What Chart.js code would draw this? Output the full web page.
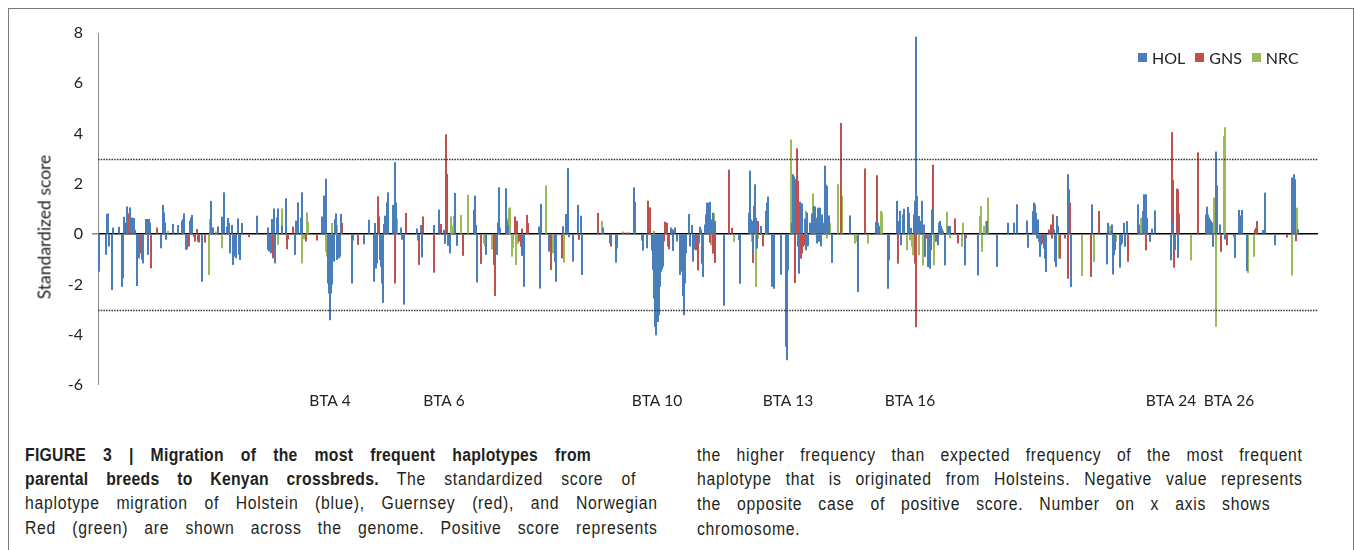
<!DOCTYPE html>
<html>
<head>
<meta charset="utf-8">
<script src="https://cdn.jsdelivr.net/npm/chart.js@4.4.1/dist/chart.umd.min.js"></script>
<style>
  html, body { margin: 0; padding: 0; background: #fff; }
  body { width: 1355px; height: 550px; position: relative; overflow: hidden; }
  #frame { position: absolute; left: 8px; top: 8px; width: 1346px; height: 600px;
           border: 1.5px solid #7a7a7a; border-bottom: none; box-sizing: border-box; }
  #wrap { position: absolute; left: 0; top: 0; width: 1355px; height: 420px; }
  #ytitle { position: absolute; left: 44px; top: 227px; transform: translate(-50%, -50%) rotate(-90deg);
            font-family: Lato, 'Open Sans', sans-serif; font-size: 17.5px; color: #222; white-space: nowrap; }
  #legend { position: absolute; left: 1138px; top: 47px; height: 20px; display: flex; align-items: center;
            font-family: Lato, 'Open Sans', sans-serif; font-size: 16px; color: #222; }
  #legend .it { display: flex; align-items: center; margin-right: 10px; }
  #legend .sw { width: 9px; height: 9px; margin-right: 5px; }
  .cap { position: absolute; font-family: "Liberation Sans", Arial, sans-serif;
         font-size: 17.5px; color: #231f20; white-space: nowrap; line-height: 24px; letter-spacing: 0.8px;
         transform: scaleX(0.9); transform-origin: 0 0; }
  .j { text-align: justify; text-align-last: justify; }
  b { font-weight: bold; letter-spacing: 0.3px; }
</style>
</head>
<body>
<div id="frame"></div>
<div id="wrap"><canvas id="c"></canvas></div>
<div id="ytitle">Standardized score</div>
<div id="legend"></div>

<div class="cap j" style="left:25px; top:443px; width:629px;"><b>FIGURE 3 | Migration of the most frequent haplotypes from</b></div>
<div class="cap j" style="left:25px; top:467px; width:679px;"><b>parental breeds to Kenyan crossbreds.</b> The standardized score of</div>
<div class="cap j" style="left:25px; top:491px; width:703px;">haplotype migration of Holstein (blue), Guernsey (red), and Norwegian</div>
<div class="cap j" style="left:25px; top:516px; width:703px;">Red (green) are shown across the genome. Positive score represents</div>
<div class="cap j" style="left:697px; top:443px; width:673px;">the higher frequency than expected frequency of the most frequent</div>
<div class="cap j" style="left:697px; top:467px; width:673px;">haplotype that is originated from Holsteins. Negative value represents</div>
<div class="cap j" style="left:697px; top:492px; width:637px;">the opposite case of positive score. Number on x axis shows</div>
<div class="cap" style="left:697px; top:517px;">chromosome.</div>

<script>
// ---- data: genome window index and standardized score per breed ----
const holPos = [1,8,9,10,11,14,15,21,24,25,26,29,32,34,36,37,39,40,41,44,45,49,50,51,52,63,65,66,68,75,80,84,85,86,88,89,92,93,94,104,113,114,115,120,124,126,129,130,131,132,134,135,136,137,138,140,141,142,144,159,170,171,173,174,176,177,179,180,184,188,
197,198,200,203,204,224,226,228,230,231,232,233,234,236,237,238,239,241,242,243,254,266,271,276,277,278,279,282,283,284,285,286,287,289,290,295,296,297,298,303,304,306,319,320,323,324,336,341,346,347,350,352,357,359,376,377,378,379,388,
398,399,400,401,402,408,409,410,424,426,441,442,443,451,457,458,465,468,470,471,475,480,483,484,505,512,518,519,536,537,544,545,549,555,556,557,558,559,560,561,562,563,564,565,573,574,575,576,577,579,582,583,584,585,586,587,588,591,592,594,595,
597,601,602,603,604,605,607,608,609,610,611,612,614,615,617,626,641,642,651,652,653,654,655,656,657,658,659,663,668,669,670,674,675,676,683,688,689,690,695,696,700,701,702,704,707,708,709,710,712,714,716,717,718,719,720,721,722,723,724,726,727,729,730,731,734,752,760,778,780,781,790,791,
799,800,801,802,803,805,806,810,811,813,816,817,818,819,820,821,822,824,826,827,830,832,833,834,838,840,841,842,843,844,845,847,850,852,867,880,889,899,910,916,919,929,930,935,936,937,938,939,940,941,942,943,947,948,956,957,958,959,960,970,973,994,
1009,1010,1013,1014,1015,1016,1017,1022,1023,1024,1026,1027,1029,1040,1041,1045,1046,1047,1048,1049,1052,1054,1057,1073,1075,1077,1080,1108,1109,1110,1111,1112,1113,1114,1115,1118,1119,1122,1127,1137,1141,1143,1144,1149,1165,1167,1177,1194,1195,1196,1197,1200];
const holVal = [-1.48,-0.81,0.79,0.81,-0.48,-2.21,0.25,0.28,-2.08,-1.75,0.68,1.09,1.05,0.65,0.63,0.16,-2.05,-0.75,-0.95,-1.01,-1.15,0.59,-0.81,0.59,0.45,-0.55,1.15,0.85,-0.21,0.39,0.35,0.52,0.59,0.81,-0.61,-0.59,0.52,0.65,0.75,-1.88,1.31,0.25,0.25,0.29,0.68,1.65,0.29,0.63,0.43,-0.75,0.35,-1.21,-0.88,-0.61,-0.95,0.61,-0.81,-1.01,0.43,0.72,0.25,-0.68,-0.75,0.59,1.01,-1.15,0.65,1.01,0.32,1.41,
-0.81,0.52,1.25,0.65,1.65,0.69,1.52,2.19,-1.95,-2.35,-3.41,-2.35,-2.0,-1.08,0.59,0.81,-1.01,-0.95,-0.88,0.79,-1.95,-0.39,0.56,-1.88,0.43,-1.35,-1.15,-1.01,-1.28,-1.95,-2.72,0.39,0.72,1.25,1.65,1.15,1.09,2.85,1.25,0.25,-0.21,-2.79,0.21,-0.24,0.35,-0.91,0.35,0.96,0.16,-0.37,-0.45,-0.75,1.63,-0.45,0.96,1.52,0.35,-1.91,-0.81,
-0.55,-0.81,0.45,1.85,0.25,1.81,0.52,0.35,-0.85,-2.08,0.29,-2.15,1.19,-0.68,-1.08,-1.88,0.29,0.79,2.61,-0.11,-1.08,1.15,0.72,-1.61,0.25,-0.35,-1.12,-0.55,1.85,1.28,-0.24,-0.64,-0.55,-1.41,-2.55,-3.68,-4.01,-3.41,-3.48,-3.21,-2.08,-1.48,-1.39,-1.28,0.25,0.19,-0.65,0.16,0.25,-0.28,-1.61,-1.48,-1.08,-2.45,-3.21,-1.95,-0.75,0.79,-0.48,0.35,-1.08,
-0.6,-0.36,0.28,0.17,-0.56,-1.69,0.37,0.77,1.24,0.84,1.24,1.27,0.57,0.84,0.51,-2.83,-0.23,-1.96,0.84,2.51,0.57,0.51,-0.76,1.11,1.97,0.64,-0.56,0.31,0.91,1.24,1.48,-2.07,-2.09,-2.16,-1.6,-4.47,-5.0,-1.43,2.37,2.28,-0.49,-1.56,1.28,1.21,0.6,-0.63,0.84,-0.47,0.44,0.81,1.11,1.08,0.64,-0.36,1.04,-0.29,1.04,-0.47,0.77,0.44,2.71,1.91,0.64,0.73,-1.13,0.73,-2.29,0.47,0.44,0.31,-2.16,-1.03,
1.31,0.51,0.24,0.91,-0.43,0.77,1.0,1.07,0.84,0.24,0.77,1.31,7.84,1.51,0.64,0.71,0.51,1.31,0.37,-0.89,-1.29,-1.36,-0.63,0.97,-0.29,-0.43,0.44,0.51,0.31,0.21,0.11,-1.23,0.31,0.31,-1.23,-1.63,0.51,-1.29,0.44,0.44,1.17,0.53,-0.53,0.91,1.24,1.17,0.84,-0.16,0.57,-0.29,-0.89,-0.43,-0.96,-1.49,0.17,-1.09,-1.29,0.71,0.31,2.37,-2.09,1.17,
-1.19,0.44,0.11,0.37,-1.59,-0.83,-0.63,-1.32,-0.43,-0.36,0.44,-0.49,0.51,1.17,0.37,0.91,1.57,1.11,1.57,0.64,-0.29,0.2,0.93,-1.03,0.47,-0.63,-0.93,0.77,1.08,0.77,0.64,0.57,0.51,0.44,-0.49,3.27,1.93,0.37,-0.2,-0.93,0.95,0.73,0.95,-1.45,0.15,1.64,-0.43,2.24,1.48,2.37,2.17,0.17];

const gnsPos = [28,30,33,43,48,53,59,67,91,96,97,99,100,101,107,151,170,175,189,190,195,
208,219,233,244,255,260,280,281,297,308,321,325,336,343,348,349,351,365,383,396,397,
417,419,421,423,424,429,430,453,458,464,465,475,481,484,500,513,526,529,531,550,552,554,566,567,568,569,570,571,575,
598,600,604,612,613,615,617,631,634,655,660,665,694,697,698,699,700,703,704,705,706,743,767,779,
800,817,818,829,835,857,860,868,945,946,951,953,954,955,962,967,970,971,972,993,
1001,1030,1048,1074,1075,1076,1079,1080,1081,1100,1123,1129,1136,1157,1158,1159,1189,1197,1198];
const gnsVal = [0.45,0.81,0.32,-0.75,0.59,-1.35,0.25,0.45,-0.48,-0.1,-0.28,0.19,-0.28,-0.32,-0.32,-0.11,-0.61,-0.95,-0.59,-0.19,0.29,
-0.28,-0.24,-0.72,0.43,-0.24,-0.41,1.49,0.69,-1.95,0.83,-1.21,0.69,-1.52,0.39,3.96,2.39,-0.28,-0.85,-1.17,-1.21,-2.45,
0.69,0.52,-0.28,-0.48,0.21,0.75,0.43,-1.41,-0.41,-0.95,0.29,-0.32,-0.21,-0.41,0.83,-0.48,0.05,0.05,0.05,1.32,1.05,-0.64,-0.28,0.48,0.45,0.43,-0.48,-0.59,-0.64,
-0.63,-1.43,-1.16,-0.33,0.37,-0.76,-1.13,2.55,0.24,-1.13,0.51,-0.47,0.44,-1.93,2.17,3.4,2.11,-0.96,-0.76,-0.49,-0.43,4.41,2.6,2.33,
-1.16,-1.16,-3.69,-0.16,2.75,0.61,-0.36,-0.16,-0.36,-0.56,0.17,0.37,-0.16,0.77,-0.96,-0.16,-1.76,1.77,1.24,-1.69,
0.91,-1.09,-0.63,4.04,2.15,-1.32,1.8,1.77,0.81,3.24,-0.69,-0.43,-0.09,0.17,0.24,0.51,-0.12,0.55,-0.27];

const nrcPos = [70,111,112,118,124,180,184,
204,206,209,210,228,229,234,239,299,353,354,356,363,370,386,387,394,
401,410,411,412,414,415,418,420,448,455,466,504,525,556,557,
613,616,636,654,658,660,668,693,708,715,728,729,732,740,744,757,758,770,783,784,
809,812,814,815,821,825,836,849,851,852,864,865,882,883,884,886,888,890,961,984,996,
1012,1018,1043,1093,1116,1118,1126,1127,1150,1156,1194,1199];
const nrcVal = [0.12,-1.61,0.59,0.09,-0.55,-0.41,1.01,
-1.15,-0.19,0.85,0.48,-0.68,-0.88,0.43,0.35,0.61,0.69,0.32,0.72,0.75,1.55,-0.37,-0.48,-0.59,
0.72,0.61,1.01,1.05,-0.88,-0.55,-1.21,-0.37,1.92,-0.75,-1.12,0.52,0.09,0.12,-1.15,
-0.43,0.81,-0.29,-0.29,-2.09,-0.16,0.37,3.75,0.91,1.61,1.97,-0.16,0.44,1.97,1.51,-0.36,-0.29,-0.36,0.91,0.84,
-0.63,-0.23,-0.49,-0.83,-0.83,-1.23,-1.23,0.88,0.24,-0.16,-0.49,0.44,0.71,1.11,-0.69,0.31,0.51,1.44,-0.96,-1.65,-1.09,
0.31,-0.29,0.64,-1.03,1.44,-3.67,3.88,4.24,-1.53,-0.89,-1.63,1.04];

const seriesNames = ["HOL", "GNS", "NRC"];
const chromLabels = ["BTA 4", "BTA 6", "BTA 10", "BTA 13", "BTA 16", "BTA 24", "BTA 26"];
const chromPos = [232, 346, 559, 690, 812, 1073, 1131];
const yTicks = [8, 6, 4, 2, 0, -2, -4, -6];
const thresholds = [3, -3];
const genomeLength = 1220;

// ---- build ----
const colors = ["#4a7ebb", "#c0504d", "#9bbb59"];
const toPts = (p, v) => p.map((x, i) => ({ x: x, y: v[i] }));
const seriesData = [toPts(holPos, holVal), toPts(gnsPos, gnsVal), toPts(nrcPos, nrcVal)];

const FONT = "Lato, 'Open Sans', sans-serif";

const refLinePlugin = {
  id: 'refLines',
  afterDatasetsDraw(chart) {
    const { ctx, chartArea, scales } = chart;
    ctx.save();
    ctx.strokeStyle = '#333';
    ctx.lineWidth = 1.7;
    ctx.setLineDash([1.5, 1.2]);
    thresholds.forEach(v => {
      const y = Math.round(scales.y.getPixelForValue(v)) + 0.5;
      ctx.beginPath();
      ctx.moveTo(chartArea.left, y);
      ctx.lineTo(chartArea.right, y);
      ctx.stroke();
    });
    ctx.restore();
  }
};

const chart = new Chart(document.getElementById('c'), {
  type: 'bar',
  data: {
    datasets: seriesNames.map((n, i) => ({
      label: n,
      data: seriesData[i],
      backgroundColor: colors[i],
      borderWidth: 0,
      barThickness: 1.4,
      grouped: false
    }))
  },
  plugins: [refLinePlugin],
  options: {
    responsive: true,
    maintainAspectRatio: false,
    animation: false,
    layout: { padding: { left: 30, right: 37, top: 33, bottom: 0 } },
    plugins: {
      legend: { display: false },
      tooltip: { enabled: false }
    },
    scales: {
      x: {
        type: 'linear',
        min: 0, max: genomeLength,
        offset: false,
        grid: { display: false, drawTicks: false },
        border: { display: false },
        afterBuildTicks: s => { s.ticks = chromPos.map(v => ({ value: v })); },
        afterFit: s => { s.height = 35; },
        ticks: {
          autoSkip: false, maxRotation: 0, padding: 7,
          color: '#222',
          font: { family: FONT, size: 15.5 },
          callback: v => { const k = chromPos.indexOf(v); return k >= 0 ? chromLabels[k] : ''; }
        }
      },
      y: {
        min: -6, max: 8,
        afterBuildTicks: s => { s.ticks = yTicks.map(v => ({ value: v })); },
        afterFit: s => { s.width = 68; },
        border: { display: true, color: '#8c8c8c', width: 1 },
        grid: {
          drawTicks: true, tickLength: 6, tickColor: '#8c8c8c',
          color: c => (c.tick && c.tick.value === 0) ? '#000' : 'rgba(0,0,0,0)',
          lineWidth: c => (c.tick && c.tick.value === 0) ? 1.6 : 0
        },
        ticks: {
          padding: 9, color: '#222',
          font: { family: FONT, size: 16 }
        },
        title: { display: false }
      }
    }
  }
});

// legend built from the dataset names and colours
const lg = document.getElementById('legend');
chart.data.datasets.forEach(ds => {
  const it = document.createElement('span'); it.className = 'it';
  const sw = document.createElement('span'); sw.className = 'sw'; sw.style.background = ds.backgroundColor;
  const tx = document.createElement('span'); tx.textContent = ds.label;
  it.appendChild(sw); it.appendChild(tx); lg.appendChild(it);
});
</script>
</body>
</html>
